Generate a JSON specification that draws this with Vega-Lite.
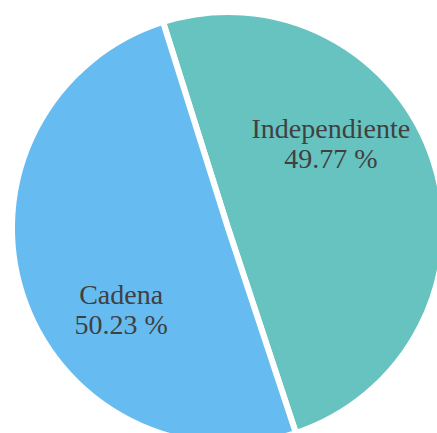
{
  "$schema": "https://vega.github.io/schema/vega-lite/v6.json",
  "width": 446,
  "height": 450,
  "padding": 0,
  "background": "white",
  "config": {"view": {"stroke": null}},
  "data": {"values": [
    {"label": "Independiente", "pct": 49.77},
    {"label": "Cadena", "pct": 50.23}
  ]},
  "transform": [
    {"calculate": "datum.label + '\\n' + format(datum.pct, '.2f') + ' %'", "as": "txt"}
  ],
  "layer": [
    {
      "mark": {"type": "arc", "outerRadius": 216, "stroke": "white", "strokeWidth": 6},
      "encoding": {
        "theta": {"field": "pct", "type": "quantitative", "stack": true, "scale": {"range": [-0.3054, 5.9778]}},
        "order": {"field": "label", "sort": "descending"},
        "color": {"field": "label", "type": "nominal", "legend": null,
          "scale": {"domain": ["Independiente", "Cadena"], "range": ["#67C3BF", "#66BCF1"]}}
      }
    },
    {
      "mark": {"type": "text", "radius": 134, "font": "Liberation Serif", "fontSize": 28, "lineBreak": "\n", "lineHeight": 30, "color": "#404040", "align": "center", "baseline": "middle", "dx": -2, "dy": -15},
      "encoding": {
        "theta": {"field": "pct", "type": "quantitative", "stack": true, "scale": {"range": [-0.665, 5.618]}},
        "order": {"field": "label", "sort": "descending"},
        "text": {"field": "txt"}
      }
    }
  ],
  "resolve": {"scale": {"theta": "independent"}}
}
